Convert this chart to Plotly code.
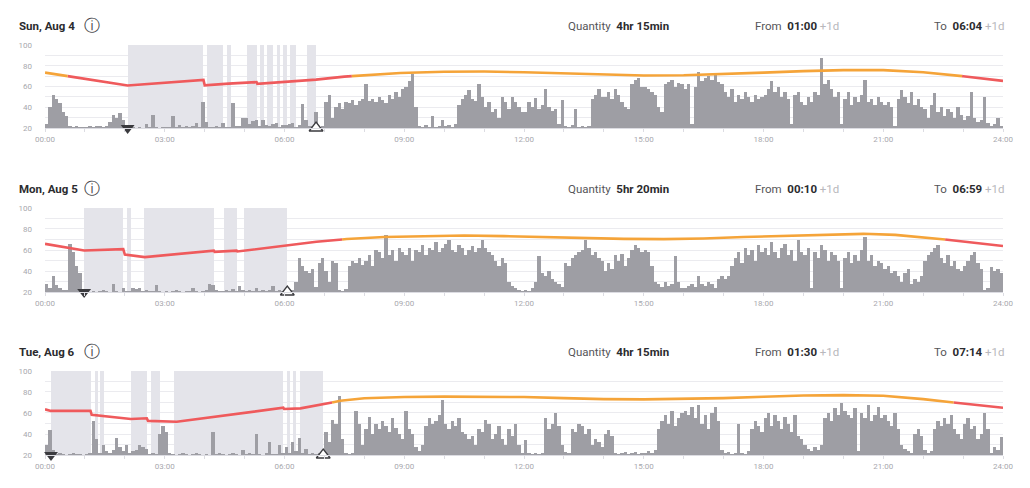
import plotly.graph_objects as go
from plotly.subplots import make_subplots

days = ['Sun, Aug 4', 'Mon, Aug 5', 'Tue, Aug 6']
quantity = ['4hr 15min', '5hr 20min', '4hr 15min']
from_time = ['01:00', '00:10', '01:30']
to_time = ['06:04', '06:59', '07:14']

# sleep blocks (start hour, end hour)
sun_blocks = [(2.07, 3.97), (4.07, 4.47), (4.57, 4.65), (5.07, 5.30), (5.39, 5.49),
              (5.57, 5.72), (5.80, 5.89), (5.97, 6.07), (6.15, 6.30), (6.57, 6.79)]
mon_blocks = [(0.98, 1.96), (2.06, 2.15), (2.48, 4.23), (4.48, 4.80), (4.99, 6.07)]
tue_blocks = [(0.15, 1.14), (1.24, 1.32), (1.38, 1.48), (2.15, 2.55), (2.66, 2.88),
              (3.23, 5.97), (6.05, 6.14), (6.22, 6.30), (6.40, 6.97)]

# asleep / awake markers (hour)
sun_marks = [2.07, 6.79]
mon_marks = [0.98, 6.07]
tue_marks = [0.15, 6.97]

# heart rate line (hour, bpm)
sun_hr_t = [0, 2.07, 3.97, 4.0, 4.6, 5.3, 5.32, 6.3, 6.79, 7.5, 8.06, 8.9, 10, 11, 12, 13,
            14, 15, 16, 17, 18, 19, 20, 21, 22, 23, 24]
sun_hr_v = [73.4, 61.0, 66.4, 61.2, 62.8, 64.2, 62.6, 64.8, 66.6, 69.5, 71.0, 73.0, 74.2, 74.4,
            73.8, 72.6, 71.2, 70.6, 70.8, 71.8, 73.4, 74.8, 75.8, 75.8, 73.8, 69.9, 65.4]
mon_hr_t = [0, 0.98, 1.96, 2.0, 2.5, 4.23, 4.25, 4.8, 4.82, 6.07, 6.8, 7.56, 8.5, 9.5, 10.5,
            11.5, 12.5, 13.5, 14.5, 15.5, 16.5, 17.5, 18.5, 19.5, 20.5, 21.3, 22.1, 22.9, 24]
mon_hr_v = [65.8, 59.6, 60.8, 55.6, 53.2, 59.4, 58.2, 59.4, 58.6, 64.8, 67.8, 70.4, 72.4, 73.2,
            73.8, 73.2, 72.2, 71.2, 70.6, 70.4, 71.0, 72.4, 73.6, 74.8, 75.4, 74.4, 71.8, 68.6, 63.8]
tue_hr_t = [0, 0.15, 1.14, 1.17, 2.15, 2.55, 2.58, 3.3, 5.97, 5.99, 6.4, 6.97, 7.4, 8, 9, 10,
            11, 12, 13, 14, 15, 16, 17, 18, 19, 20, 21, 22, 23, 24]
tue_hr_v = [63.5, 62.0, 62.0, 58.2, 54.3, 55.0, 52.5, 51.7, 65.0, 63.8, 64.4, 68.3, 71.6, 74.0,
            75.2, 75.6, 75.4, 75.2, 74.2, 73.2, 73.0, 73.4, 74.2, 75.4, 76.6, 77.0, 76.4, 73.2,
            69.0, 65.0]

# activity, 5-minute bins, one row per hour
sun_act = [
    24, 40, 52, 48, 44, 35, 32, 22, 21, 22, 21, 21,
    21, 22, 21, 22, 22, 21, 22, 26, 33, 30, 34, 28,
    22, 20, 21, 20, 21, 20, 24, 21, 33, 21, 20, 21,
    21, 21, 32, 21, 23, 21, 22, 21, 22, 25, 21, 45,
    26, 21, 21, 22, 21, 25, 21, 21, 44, 22, 22, 30,
    30, 24, 27, 28, 22, 28, 23, 22, 24, 25, 21, 23,
    23, 24, 25, 21, 23, 43, 28, 22, 22, 35, 21, 22,
    45, 52, 30, 40, 44, 38, 45, 44, 47, 42, 46, 48,
    62, 46, 48, 45, 50, 47, 44, 52, 48, 55, 50, 58,
    60, 65, 72, 40, 22, 21, 23, 21, 32, 21, 22, 28,
    22, 23, 21, 24, 42, 48, 52, 57, 48, 46, 62, 50,
    40, 45, 35, 38, 30, 50, 45, 38, 50, 45, 40, 35,
    35, 45, 40, 49, 38, 42, 58, 40, 36, 38, 24, 47,
    22, 21, 23, 38, 21, 22, 21, 22, 48, 52, 58, 50,
    50, 55, 48, 58, 52, 45, 40, 38, 62, 66, 68, 60,
    60, 58, 55, 52, 40, 35, 62, 64, 66, 60, 63, 62,
    58, 62, 24, 60, 74, 65, 68, 70, 66, 71, 64, 62,
    55, 50, 58, 45, 52, 48, 55, 50, 45, 52, 48, 50,
    52, 58, 65, 55, 60, 50, 55, 48, 24, 52, 55, 45,
    42, 50, 45, 55, 52, 87, 62, 66, 58, 50, 55, 24,
    48, 55, 42, 50, 45, 52, 66, 45, 48, 42, 50, 45,
    42, 45, 40, 22, 48, 57, 50, 44, 55, 42, 48, 40,
    38, 30, 42, 54, 35, 40, 32, 38, 35, 30, 40, 33,
    28, 32, 55, 30, 26, 28, 50, 25, 22, 24, 30, 22,
]
mon_act = [
    28, 24, 35, 27, 24, 22, 22, 66, 58, 45, 38, 21,
    21, 20, 21, 20, 21, 22, 21, 20, 28, 21, 20, 24,
    21, 21, 24, 23, 24, 21, 22, 21, 21, 27, 21, 20,
    21, 20, 21, 22, 21, 20, 21, 21, 24, 21, 20, 21,
    22, 28, 27, 22, 21, 21, 22, 21, 23, 21, 26, 22,
    21, 22, 21, 24, 21, 22, 21, 22, 26, 21, 22, 21,
    24, 21, 22, 30, 52, 45, 40, 38, 42, 25, 48, 52,
    40, 30, 50, 48, 22, 21, 23, 45, 50, 48, 52, 46,
    50, 55, 45, 60, 58, 52, 74, 55, 60, 50, 62, 58,
    55, 62, 50, 60, 58, 65, 55, 62, 60, 68, 58, 62,
    66, 70, 60, 58, 65, 62, 55, 60, 64, 58, 62, 70,
    62, 58, 55, 50, 45, 52, 48, 30, 26, 24, 22, 21,
    22, 21, 24, 30, 54, 38, 35, 40, 32, 30, 28, 25,
    48, 45, 52, 55, 58, 60, 70, 62, 55, 58, 52, 50,
    40, 48, 42, 55, 50, 56, 45, 52, 60, 65, 62, 58,
    60, 58, 45, 30, 28, 25, 30, 26, 28, 54, 30, 24,
    24, 26, 28, 25, 35, 28, 26, 30, 28, 24, 32, 35,
    32, 35, 45, 52, 58, 48, 62, 55, 60, 50, 65, 58,
    62, 55, 68, 58, 52, 62, 66, 55, 60, 50, 70, 58,
    55, 62, 24, 58, 52, 65, 60, 50, 58, 55, 50, 24,
    52, 58, 48, 55, 50, 60, 72, 50, 55, 45, 50, 48,
    42, 45, 38, 40, 35, 30, 38, 42, 28, 32, 30, 35,
    50, 55, 58, 62, 65, 52, 48, 55, 45, 50, 42, 40,
    45, 50, 55, 58, 48, 42, 22, 24, 44, 40, 42, 38,
]
tue_act = [
    30, 44, 25, 21, 22, 21, 20, 21, 22, 21, 21, 20,
    21, 22, 52, 35, 22, 30, 24, 22, 25, 36, 28, 24,
    30, 22, 24, 25, 30, 28, 26, 21, 22, 21, 40, 48,
    42, 22, 21, 20, 21, 22, 21, 20, 21, 22, 21, 20,
    21, 20, 42, 21, 22, 21, 20, 21, 22, 21, 20, 25,
    21, 22, 21, 40, 21, 20, 22, 32, 21, 21, 30, 22,
    28, 22, 32, 24, 36, 22, 26, 21, 22, 21, 22, 23,
    42, 32, 53, 50, 76, 35, 22, 21, 22, 62, 50, 30,
    45, 56, 40, 50, 45, 52, 48, 42, 55, 46, 40, 35,
    62, 45, 40, 28, 24, 30, 48, 55, 50, 52, 58, 72,
    50, 45, 52, 48, 55, 42, 40, 35, 38, 30, 45, 42,
    53, 50, 35, 40, 48, 35, 30, 45, 38, 50, 30, 22,
    34, 22, 21, 22, 21, 22, 55, 45, 50, 60, 48, 30,
    23, 22, 45, 42, 50, 48, 40, 45, 30, 35, 32, 28,
    40, 44, 38, 22, 21, 22, 23, 21, 22, 23, 21, 22,
    22, 24, 22, 25, 45, 52, 58, 50, 62, 48, 55, 60,
    62, 58, 66, 55, 68, 50, 58, 45, 60, 66, 52, 25,
    22, 23, 21, 22, 50, 22, 21, 24, 45, 52, 48, 42,
    55, 60, 48, 58, 52, 45, 56, 50, 42, 58, 38, 35,
    30, 26, 24, 28, 25, 30, 55, 60, 52, 65, 58, 70,
    62, 58, 55, 65, 24, 60, 55, 68, 52, 58, 66, 55,
    58, 52, 48, 60, 45, 30, 26, 24, 22, 40, 45, 38,
    25, 22, 24, 45, 52, 48, 55, 50, 58, 45, 40, 35,
    50, 55, 45, 48, 35, 40, 60, 45, 22, 28, 25, 37,
]

tick_vals = [0, 3, 6, 9, 12, 15, 18, 21, 24]
tick_text = ['00:00', '03:00', '06:00', '09:00', '12:00', '15:00', '18:00', '21:00', '24:00']

RED = '#ef5a5c'
ORANGE = '#f5a439'
THR = 70


def split_line(t, v, thr):
    # red below threshold, orange at or above it
    xr, yr, xo, yo = [], [], [], []
    for i in range(len(t)):
        if i > 0:
            a, b = v[i - 1], v[i]
            if (a >= thr) != (b >= thr):
                tc = t[i - 1] + (thr - a) / (b - a) * (t[i] - t[i - 1])
                xr.append(tc); yr.append(thr)
                xo.append(tc); yo.append(thr)
                if b >= thr:
                    xr.append(None); yr.append(None)
                else:
                    xo.append(None); yo.append(None)
        if v[i] >= thr:
            xo.append(t[i]); yo.append(v[i])
        else:
            xr.append(t[i]); yr.append(v[i])
    return xr, yr, xo, yo


fig = make_subplots(rows=3, cols=1)

panels = [
    (sun_blocks, sun_marks, sun_hr_t, sun_hr_v, sun_act),
    (mon_blocks, mon_marks, mon_hr_t, mon_hr_v, mon_act),
    (tue_blocks, tue_marks, tue_hr_t, tue_hr_v, tue_act),
]
domains = [(0.7377, 0.9078), (0.4016, 0.5738), (0.0676, 0.2398)]

bin_x = [i / 12 + 1 / 24 for i in range(288)]

for r, (blocks, marks, hr_t, hr_v, act) in enumerate(panels, start=1):
    fig.add_trace(go.Bar(
        x=[(a + b) / 2 for a, b in blocks], y=[80] * len(blocks), base=20,
        width=[b - a for a, b in blocks], marker=dict(color='#e4e4ea', line_width=0),
        hoverinfo='skip'), row=r, col=1)
    fig.add_trace(go.Bar(
        x=bin_x, y=act, width=1 / 12, marker=dict(color='#9e9ea4', line_width=0),
        hoverinfo='skip'), row=r, col=1)
    xr, yr, xo, yo = split_line(hr_t, hr_v, THR)
    fig.add_trace(go.Scatter(x=xr, y=yr, mode='lines', line=dict(color=RED, width=2.6)),
                  row=r, col=1)
    fig.add_trace(go.Scatter(x=xo, y=yo, mode='lines', line=dict(color=ORANGE, width=2.6)),
                  row=r, col=1)
    fig.add_trace(go.Scatter(
        x=[marks[0]], y=[20], mode='markers', cliponaxis=False,
        marker=dict(symbol='triangle-down', size=12, color='#3a3a3e')), row=r, col=1)
    fig.add_trace(go.Scatter(
        x=[marks[1]], y=[20], mode='markers', cliponaxis=False,
        marker=dict(symbol='triangle-up', size=12, color='white',
                    line=dict(color='#3a3a3e', width=1.3))), row=r, col=1)

    fig.update_xaxes(domain=[0.0437, 0.9738], range=[0, 24], tickvals=tick_vals,
                     ticktext=tick_text, showgrid=False, zeroline=False, automargin=False,
                     showline=True, linecolor='#dcdce2', linewidth=1,
                     ticks='outside', ticklen=3, tickcolor='#dcdce2',
                     minor=dict(dtick=1, ticks='outside', ticklen=3, tickcolor='#dcdce2'),
                     tickfont=dict(size=8, color='#a8a8ae'), row=r, col=1)
    fig.update_yaxes(domain=list(domains[r - 1]), range=[20, 100], dtick=20,
                     showgrid=True, gridcolor='#ebebef', gridwidth=1, zeroline=False,
                     automargin=False,
                     minor=dict(dtick=10, showgrid=True, gridcolor='#ebebef'),
                     ticklabelstandoff=12, tickfont=dict(size=8, color='#a8a8ae'),
                     row=r, col=1)

    top_px = (1 - domains[r - 1][1]) * 488
    ty = 1 - (top_px - 19) / 488
    fig.add_annotation(x=17 / 1030, y=ty, xref='paper', yref='paper', xanchor='left',
                       yanchor='middle', showarrow=False, text='<b>' + days[r - 1] + '</b>',
                       font=dict(size=11.5, color='#2b2b2e'))
    fig.add_annotation(x=92 / 1030, y=ty, xref='paper', yref='paper', showarrow=False,
                       xanchor='center', yanchor='middle', text='\u24d8',
                       font=dict(family='DejaVu Sans', size=16, color='#444448'))
    fig.add_annotation(x=566 / 1030, y=ty, xref='paper', yref='paper', xanchor='left',
                       yanchor='middle', showarrow=False, font=dict(size=11.5, color='#555558'),
                       text='Quantity  <b><span style="color:#2b2b2e">' + quantity[r - 1] + '</span></b>')
    fig.add_annotation(x=753 / 1030, y=ty, xref='paper', yref='paper', xanchor='left',
                       yanchor='middle', showarrow=False, font=dict(size=11.5, color='#555558'),
                       text='From  <b><span style="color:#2b2b2e">' + from_time[r - 1]
                            + '</span></b> <span style="color:#b8b8bc">+1d</span>')
    fig.add_annotation(x=1007 / 1030, y=ty, xref='paper', yref='paper', xanchor='right',
                       yanchor='middle', showarrow=False, font=dict(size=11.5, color='#555558'),
                       text='To  <b><span style="color:#2b2b2e">' + to_time[r - 1]
                            + '</span></b> <span style="color:#b8b8bc">+1d</span>')

fig.update_layout(width=1030, height=488, margin=dict(l=0, r=0, t=0, b=0),
                  barmode='overlay', bargap=0, showlegend=False,
                  plot_bgcolor='white', paper_bgcolor='white',
                  font=dict(family='Roboto, sans-serif'))

fig.write_html('out.html', config={'displayModeBar': False},
               post_script="document.body.style.margin='0';document.body.style.overflow='hidden';")
